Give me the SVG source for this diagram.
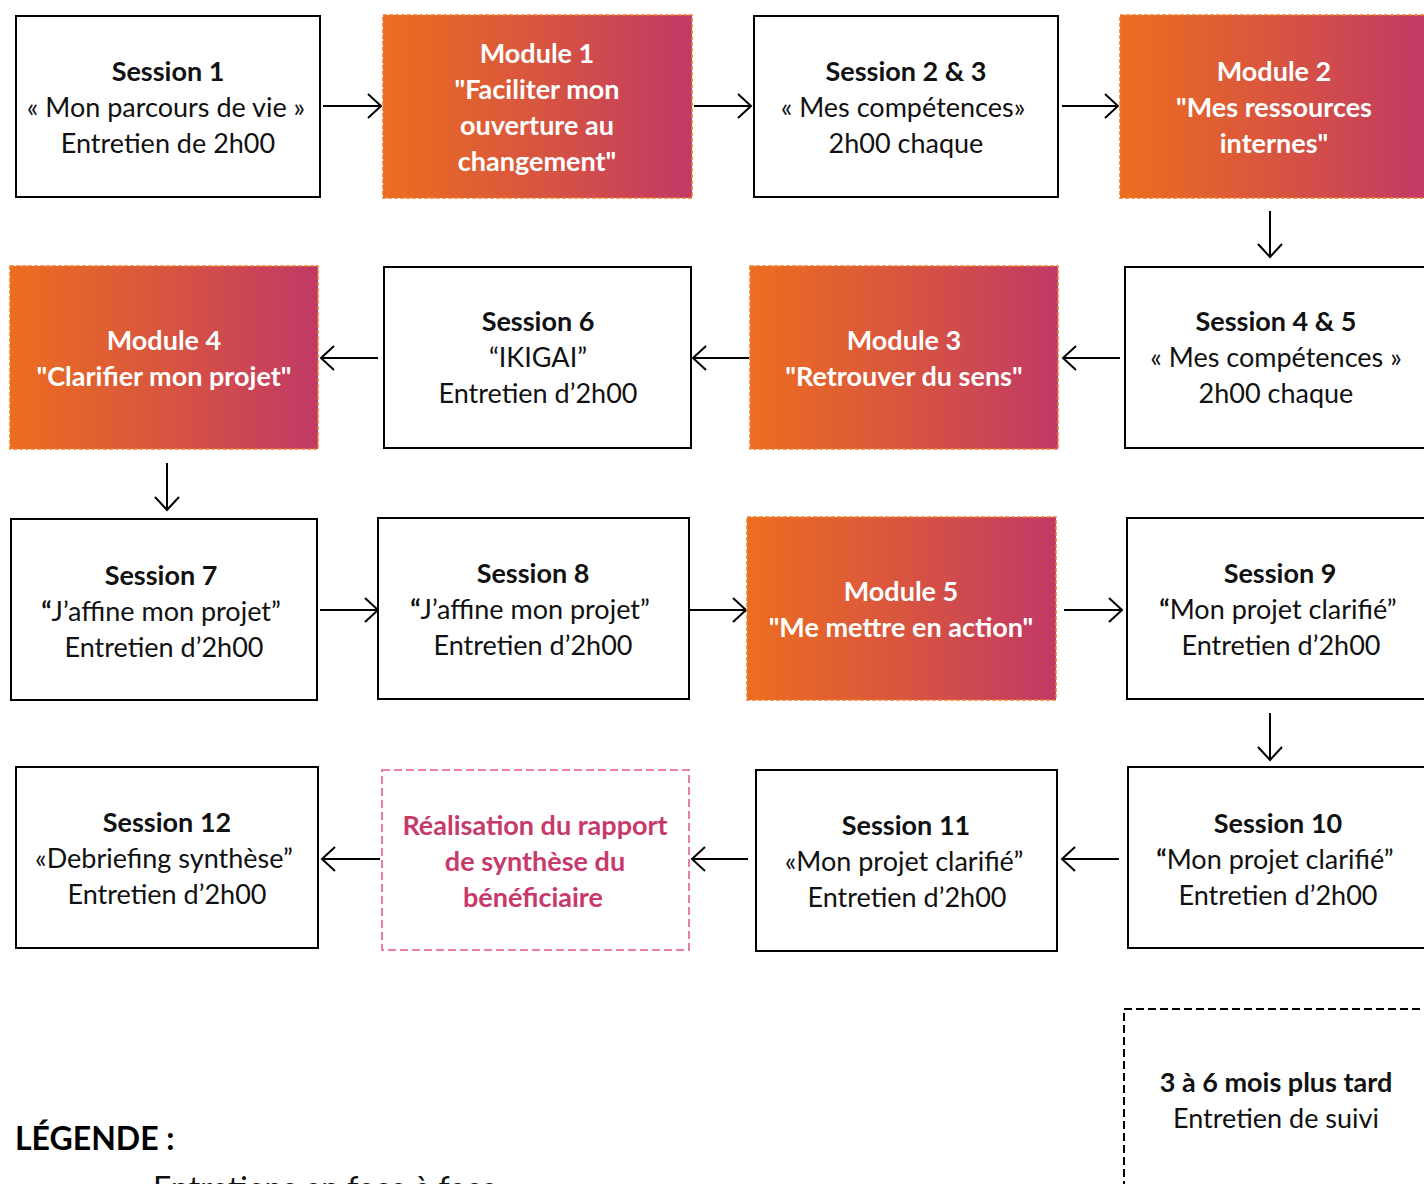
<svg xmlns="http://www.w3.org/2000/svg" width="1424" height="1184" viewBox="0 0 1424 1184">
<defs>
<linearGradient id="grad" x1="0" y1="0" x2="1" y2="0">
<stop offset="0" stop-color="#EC6E1F"/>
<stop offset="0.5" stop-color="#D8553F"/>
<stop offset="1" stop-color="#C13966"/>
</linearGradient>
<marker id="arr" markerUnits="userSpaceOnUse" viewBox="-16 -14 18 28" refX="0" refY="0" markerWidth="18" markerHeight="28" orient="auto">
<path d="M-13,-12 L0,0 L-13,12" fill="none" stroke="#000" stroke-width="2"/>
</marker>
<style>
text{font-family:Lato,"Liberation Sans",sans-serif;font-size:27px;text-anchor:middle;fill:#111}
.b{font-weight:700}
.w{fill:#fff;font-weight:700}
.p{fill:#C8396B;font-weight:700}
.box{fill:#fff;stroke:#000;stroke-width:2}
.mod{fill:url(#grad);stroke:#F07A2A;stroke-width:1.5;stroke-dasharray:4 2}
.dp{fill:#fff;stroke:#E8557A;stroke-width:1.5;stroke-dasharray:8 4}
.db{fill:#fff;stroke:#000;stroke-width:2;stroke-dasharray:8 4}
.c{fill:none;stroke:#000;stroke-width:2;marker-end:url(#arr)}
</style>
</defs>
<rect width="1424" height="1184" fill="#fff"/>

<g id="connectors">
<line class="c" x1="323" y1="106" x2="381" y2="106"/>
<line class="c" x1="694" y1="106" x2="751" y2="106"/>
<line class="c" x1="1062" y1="106" x2="1118" y2="106"/>
<line class="c" x1="1270" y1="211" x2="1270" y2="257"/>
<line class="c" x1="378" y1="358" x2="321" y2="358"/>
<line class="c" x1="749" y1="358" x2="693" y2="358"/>
<line class="c" x1="1120" y1="358" x2="1063" y2="358"/>
<line class="c" x1="167" y1="463" x2="167" y2="510"/>
<line class="c" x1="320" y1="610" x2="378" y2="610"/>
<line class="c" x1="690" y1="610" x2="746" y2="610"/>
<line class="c" x1="1064" y1="610" x2="1122" y2="610"/>
<line class="c" x1="1270" y1="713" x2="1270" y2="760"/>
<line class="c" x1="380" y1="859" x2="322" y2="859"/>
<line class="c" x1="748" y1="859" x2="692" y2="859"/>
<line class="c" x1="1119" y1="859" x2="1062" y2="859"/>
</g>

<g id="session1">
<rect class="box" x="16" y="16" width="304" height="181"/>
<text x="168" y="81" class="b">Session 1</text>
<text x="166" y="117">« Mon parcours de vie »</text>
<text x="168" y="153">Entretien de 2h00</text>
</g>
<g id="module1">
<rect class="mod" x="383" y="15" width="309" height="183"/>
<text x="537" y="63" class="w">Module 1</text>
<text x="537" y="99" class="w">"Faciliter mon</text>
<text x="537" y="135" class="w">ouverture au</text>
<text x="537" y="171" class="w">changement"</text>
</g>
<g id="session23">
<rect class="box" x="754" y="16" width="304" height="181"/>
<text x="906" y="81" class="b">Session 2 &amp; 3</text>
<text x="903" y="117">« Mes compétences»</text>
<text x="906" y="153">2h00 chaque</text>
</g>
<g id="module2">
<rect class="mod" x="1120" y="15" width="309" height="183"/>
<text x="1274" y="81" class="w">Module 2</text>
<text x="1274" y="117" class="w">"Mes ressources</text>
<text x="1274" y="153" class="w">internes"</text>
</g>

<g id="module4">
<rect class="mod" x="10" y="266" width="308" height="183"/>
<text x="164" y="350" class="w">Module 4</text>
<text x="164" y="386" class="w">"Clarifier mon projet"</text>
</g>
<g id="session6">
<rect class="box" x="384" y="267" width="307" height="181"/>
<text x="538" y="331" class="b">Session 6</text>
<text x="538" y="367">“IKIGAI”</text>
<text x="538" y="403">Entretien d’2h00</text>
</g>
<g id="module3">
<rect class="mod" x="750" y="266" width="308" height="183"/>
<text x="904" y="350" class="w">Module 3</text>
<text x="904" y="386" class="w">"Retrouver du sens"</text>
</g>
<g id="session45">
<rect class="box" x="1125" y="267" width="306" height="181"/>
<text x="1276" y="331" class="b">Session 4 &amp; 5</text>
<text x="1276" y="367">« Mes compétences »</text>
<text x="1276" y="403">2h00 chaque</text>
</g>

<g id="session7">
<rect class="box" x="11" y="519" width="306" height="181"/>
<text x="161" y="585" class="b">Session 7</text>
<text x="161" y="621"><tspan class="b">“</tspan>J’affine mon projet”</text>
<text x="164" y="657">Entretien d’2h00</text>
</g>
<g id="session8">
<rect class="box" x="378" y="518" width="311" height="181"/>
<text x="533" y="583" class="b">Session 8</text>
<text x="530" y="619"><tspan class="b">“</tspan>J’affine mon projet”</text>
<text x="533" y="655">Entretien d’2h00</text>
</g>
<g id="module5">
<rect class="mod" x="747" y="517" width="309" height="183"/>
<text x="901" y="601" class="w">Module 5</text>
<text x="901" y="637" class="w">"Me mettre en action"</text>
</g>
<g id="session9">
<rect class="box" x="1127" y="518" width="306" height="181"/>
<text x="1280" y="583" class="b">Session 9</text>
<text x="1278" y="619"><tspan class="b">“</tspan>Mon projet clarifié”</text>
<text x="1281" y="655">Entretien d’2h00</text>
</g>

<g id="session12">
<rect class="box" x="16" y="767" width="302" height="181"/>
<text x="167" y="832" class="b">Session 12</text>
<text x="164" y="868">«Debriefing synthèse”</text>
<text x="167" y="904">Entretien d’2h00</text>
</g>
<g id="rapport">
<rect class="dp" x="382" y="770" width="307" height="180"/>
<text x="535" y="835" class="p">Réalisation du rapport</text>
<text x="535" y="871" class="p">de synthèse du</text>
<text x="533" y="907" class="p">bénéficiaire</text>
</g>
<g id="session11">
<rect class="box" x="756" y="770" width="301" height="181"/>
<text x="906" y="835" class="b">Session 11</text>
<text x="904" y="871">«Mon projet clarifié”</text>
<text x="907" y="907">Entretien d’2h00</text>
</g>
<g id="session10">
<rect class="box" x="1128" y="767" width="306" height="181"/>
<text x="1278" y="833" class="b">Session 10</text>
<text x="1275" y="869"><tspan class="b">“</tspan>Mon projet clarifié”</text>
<text x="1278" y="905">Entretien d’2h00</text>
</g>

<g id="suivi">
<rect class="db" x="1124" y="1009" width="310" height="200"/>
<text x="1276" y="1092" class="b">3 à 6 mois plus tard</text>
<text x="1276" y="1128">Entretien de suivi</text>
</g>

<g id="legende">
<text x="15" y="1150" class="b" style="text-anchor:start;font-size:32px;fill:#000">LÉGENDE :</text>
<text x="153" y="1200" style="text-anchor:start;font-size:32px">Entretiens en face à face</text>
</g>
</svg>
